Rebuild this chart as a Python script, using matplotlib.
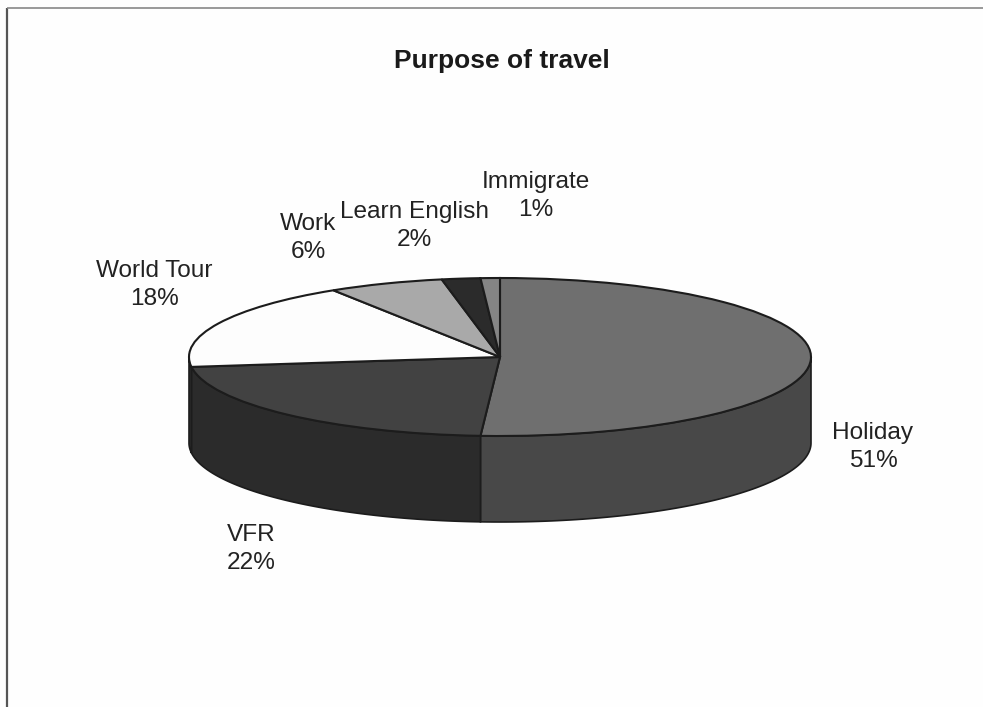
import numpy as np
import matplotlib
matplotlib.use('Agg')
import matplotlib.pyplot as plt
from matplotlib.patches import Wedge
from matplotlib.transforms import Affine2D

plt.rcParams['font.family'] = ['Liberation Sans', 'DejaVu Sans']

categories = ['Holiday', 'VFR', 'World Tour', 'Work', 'Learn English', 'Immigrate']
percent = [51, 22, 18, 6, 2, 1]

top_colors = ['#6f6f6f', '#424242', '#fdfdfd', '#a9a9a9', '#2b2b2b', '#858585']
side_colors = ['#484848', '#2b2b2b', '#2b2b2b', '#777777', '#1e1e1e', '#5c5c5c']

# label centres in pixels
label_pos = [(873, 447), (251, 549), (154, 285), (308, 238), (414, 226), (536, 196)]

W, H = 983, 707
cx, cy = 500, 357
rx, ry = 311, 79
depth = 86

fig = plt.figure(figsize=(W / 100, H / 100), dpi=100, facecolor='#fefefe')
ax = fig.add_axes([0, 0, 1, 1])
ax.set_xlim(0, W)
ax.set_ylim(H, 0)
ax.axis('off')

# chart frame, only the left and top edges show
ax.plot([7, 7], [H, 8], color='#555555', lw=1.6, solid_capstyle='butt')
ax.plot([7, W], [8, 8], color='#888888', lw=1.2, solid_capstyle='butt')

ax.text(502, 61, 'Purpose of travel', ha='center', va='center',
        fontsize=19, fontweight='bold', color='#1a1a1a')

ellipse = Affine2D().scale(rx, ry).translate(cx, cy) + ax.transData

# angles run clockwise from 12 o'clock
edges = np.cumsum([0] + percent) / sum(percent) * 360
for i in range(len(percent)):
    start, end = edges[i], edges[i + 1]

    # side wall, only the part facing front
    a = max(start, 90)
    b = min(end, 270)
    if b > a:
        t = np.radians(np.linspace(a, b, 80))
        x = cx + rx * np.sin(t)
        y = cy - ry * np.cos(t)
        ax.fill(np.r_[x, x[::-1]], np.r_[y, y[::-1] + depth],
                facecolor=side_colors[i], edgecolor='#1c1c1c', lw=1.2, zorder=2)

    ax.add_patch(Wedge((0, 0), 1, start - 90, end - 90, transform=ellipse,
                       facecolor=top_colors[i], edgecolor='#1c1c1c', lw=1.5, zorder=3))

for name, p, (lx, ly) in zip(categories, percent, label_pos):
    ax.text(lx, ly, f'{name}\n{p}%', ha='center', va='center', fontsize=17.6,
            color='#222222', linespacing=1.38, zorder=4)

fig.savefig('out.png', dpi=100, facecolor=fig.get_facecolor())
